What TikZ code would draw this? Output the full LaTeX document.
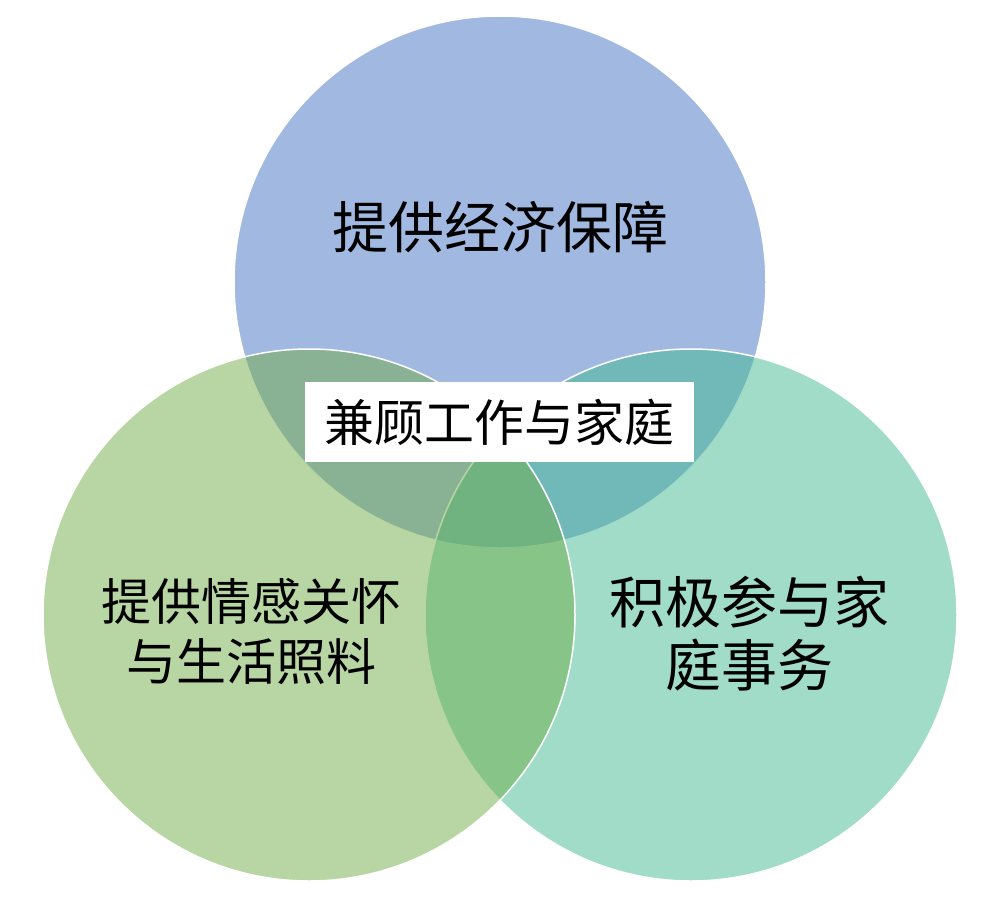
\documentclass[tikz,border=0pt]{standalone}
\usepackage{fontspec}
\newfontfamily\cjk{Noto Sans CJK SC}
\definecolor{topblue}{HTML}{4472C4}
\definecolor{leftgreen}{HTML}{70AD47}
\definecolor{rightgreen}{HTML}{41B991}

\begin{document}
\begin{tikzpicture}[x=1pt,y=-1pt,
  ring/.style={fill opacity=0.5,draw=white,line width=1.5pt},
  lbl/.style={text=black,align=center,inner sep=0pt}]

  \useasboundingbox (0,0) rectangle (986,897);
  \coordinate (T) at (500,282);
  \coordinate (L) at (309,615);
  \coordinate (R) at (691,615);

\filldraw[ring,fill=topblue] (T) circle (266pt);
\filldraw[ring,fill=rightgreen] (R) circle (266pt);
\filldraw[ring,fill=leftgreen] (L) circle (266pt);

  \node[lbl,font=\cjk\fontsize{56}{63}\selectfont] (money) at (500,227) {提供经济保障};
  \node[lbl,font=\cjk\fontsize{50}{60}\selectfont] (care) at (251,632) {提供情感关怀\\与生活照料};
  \node[lbl,font=\cjk\fontsize{56}{63}\selectfont] (house) at (749,634) {积极参与家\\庭事务};
  \node[lbl,fill=white,minimum width=389pt,minimum height=80pt,font=\cjk\fontsize{50}{60}\selectfont] (both) at (499.5,422) {兼顾工作与家庭};
\end{tikzpicture}
\end{document}
